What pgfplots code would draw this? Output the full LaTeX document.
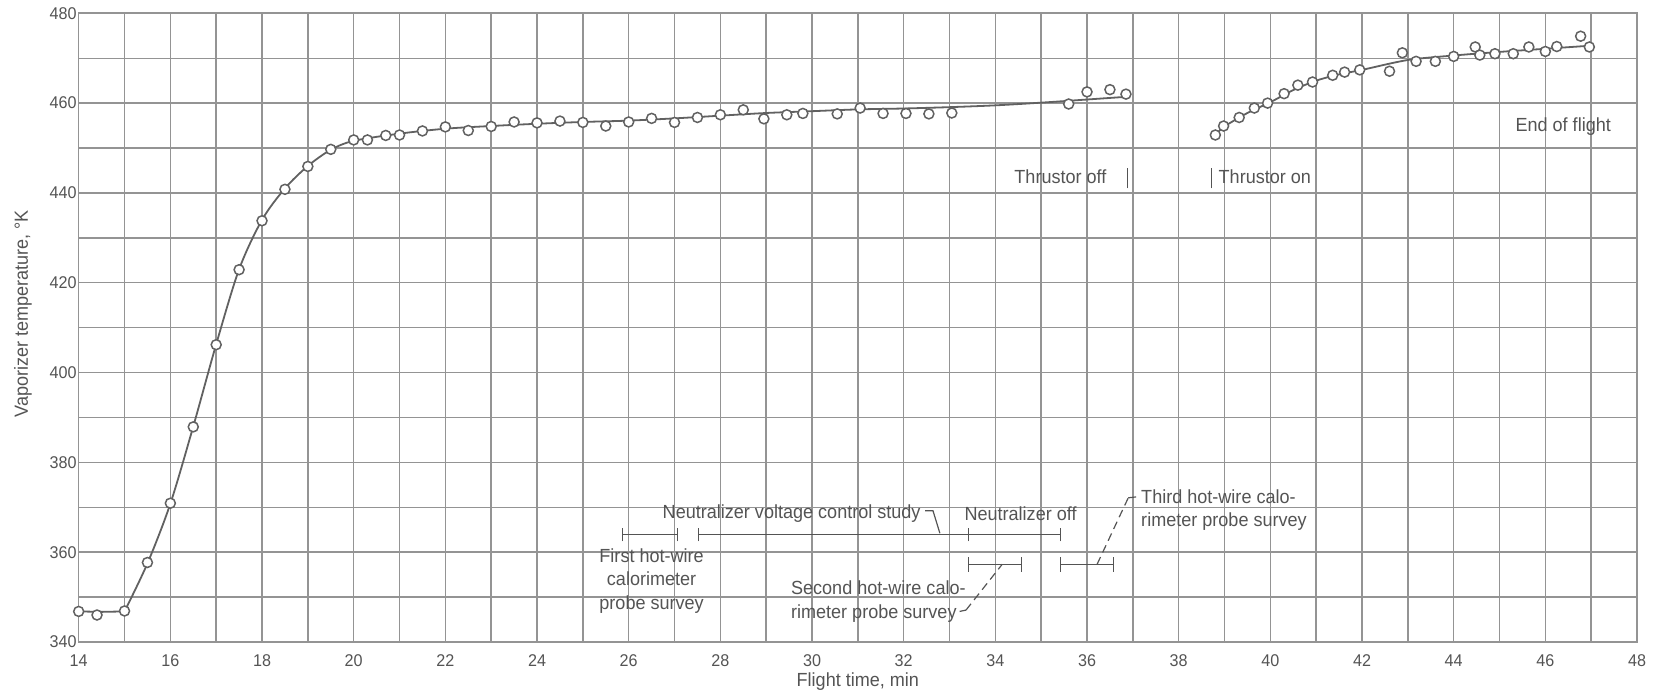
\documentclass[border=0pt]{standalone}
\usepackage{fontspec}
\setmainfont{Liberation Sans}[FakeStretch=0.95]
\usepackage{pgfplots}
\pgfplotsset{compat=1.18}
\definecolor{txt}{gray}{0.33}
\definecolor{gridc}{gray}{0.58}
\definecolor{crv}{gray}{0.38}

\begin{document}
\begin{tikzpicture}
\begin{axis}[name=ax, scale only axis, width=779.2pt, height=314.35pt,
  xmin=14, xmax=48, ymin=340, ymax=480,
  xtick={14,15,...,48},
  xticklabels={14,,16,,18,,20,,22,,24,,26,,28,,30,,32,,34,,36,,38,,40,,42,,44,,46,,48},
  ytick={340,350,...,480},
  yticklabels={340,,360,,380,,400,,420,,440,,460,,480},
  grid=major,
  major grid style={gridc, line width=0.7pt},
  axis line style={gridc, line width=0.8pt},
  tick style={draw=none},
  /pgf/number format/assume math mode=true,
  ticklabel style={font=\fontsize{8.5}{10}\selectfont, text=txt},
  xticklabel style={yshift=-3pt},
  yticklabel style={xshift=2.5pt},
  xlabel={Flight time, min},
  ylabel={Vaporizer temperature, °K},
  label style={font=\fontsize{9.5}{11}\selectfont, text=txt},
  xlabel style={at={(axis description cs:0.5,-0.0636)}, anchor=center},
  ylabel style={at={(axis description cs:-0.0358,0.522)}, anchor=center},
  clip=false,
]
% curve, first segment
\addplot[crv, line width=0.9pt] coordinates {(14,346.8)(14.5,346.7)(15,346.8)};
\addplot[crv, line width=0.9pt, smooth, tension=0.5] coordinates {
(15,346.8)(15.5,357.5)(16,370.8)(16.5,388)(17,406.3)(17.5,423)(18,434)(18.5,441)
(19,446)(19.5,449.6)(20,451.6)(21,453.2)(22,454.3)(23,454.9)(24,455.4)(25,455.8)
(26,456.1)(27,456.6)(28,457.2)(29,457.8)(30,458.2)(31,458.6)(32,458.8)(33,459.1)
(34,459.5)(35,460.1)(36,460.8)(36.85,461.4)};
% curve, second segment
\addplot[crv, line width=0.9pt, smooth, tension=0.5] coordinates {
(38.8,452.9)(39,454.8)(39.5,457.8)(40,460.2)(40.5,462.9)(41,465)(41.5,466.4)
(42,467.4)(43,469.6)(44,470.6)(45,471.4)(46,472.1)(47,472.8)};
% measured points
\addplot[only marks, mark=*, mark size=2.5pt, mark options={draw=crv, fill=white, line width=0.75pt}] coordinates {
(14,346.8)(14.4,346)(15,346.9)(15.5,357.7)(16,370.9)(16.5,387.9)(17,406.2)(17.5,422.9)
(18,433.8)(18.5,440.8)(19,445.9)(19.5,449.7)(20,451.8)(20.3,451.8)(20.7,452.8)(21,452.9)
(21.5,453.8)(22,454.7)(22.5,453.9)(23,454.8)(23.5,455.8)(24,455.6)(24.5,456)(25,455.7)
(25.5,454.9)(26,455.8)(26.5,456.6)(27,455.7)(27.5,456.8)(28,457.4)(28.5,458.5)(28.95,456.5)
(29.45,457.4)(29.8,457.7)(30.55,457.6)(31.05,458.9)(31.55,457.7)(32.05,457.7)(32.55,457.6)
(33.05,457.8)(35.6,459.8)(36.0,462.5)(36.5,463.0)(36.85,462.0)
(38.8,452.9)(38.98,454.9)(39.32,456.8)(39.65,458.9)(39.94,460)(40.3,462.1)(40.6,464)
(40.92,464.7)(41.36,466.2)(41.62,466.9)(41.95,467.4)(42.6,467.1)(42.88,471.2)(43.18,469.3)
(43.6,469.3)(44.0,470.4)(44.47,472.5)(44.57,470.7)(44.9,471)(45.3,471)(45.64,472.5)
(46.0,471.5)(46.25,472.6)(46.77,474.9)(46.96,472.5)};

% annotations
\begin{scope}[txt, line width=0.6pt]
% thrustor off / on
\node[inner sep=0, anchor=center, font=\fontsize{9.5}{11}\selectfont] at (35.42,443.5) {Thrustor off};
\draw[line width=0.8pt] (36.88,441) -- (36.88,445.6);
\draw[line width=0.8pt] (38.72,441) -- (38.72,445.6);
\node[inner sep=0, anchor=west, font=\fontsize{9.5}{11}\selectfont] at (38.86,443.5) {Thrustor on};
\node[inner sep=0, anchor=center, font=\fontsize{9.5}{11}\selectfont] at (46.39,454.8) {End of flight};
% interval bars
\draw (25.87,364) -- (27.07,364);
\draw (25.87,362.4) -- (25.87,365.4);
\draw (27.07,362.4) -- (27.07,365.4);
\draw (27.53,364) -- (35.42,364);
\draw (27.53,362.4) -- (27.53,365.4);
\draw (33.42,362.4) -- (33.42,365.4);
\draw (35.42,362.4) -- (35.42,365.4);
\draw (33.42,357.3) -- (34.57,357.3);
\draw (33.42,355.6) -- (33.42,359.0);
\draw (34.57,355.6) -- (34.57,359.0);
\draw (35.42,357.3) -- (36.57,357.3);
\draw (35.42,355.6) -- (35.42,359.0);
\draw (36.57,355.6) -- (36.57,359.0);
% leaders
\draw (32.47,369.2) -- (32.64,369.2) -- (32.79,364.2);
\draw (33.22,346.8) -- (33.36,347.1);
\draw[dash pattern=on 4pt off 2.5pt] (33.36,347.1) -- (34.15,357.3);
\draw[dash pattern=on 4pt off 2.5pt] (36.22,357.3) -- (36.9,372.1);
\draw (36.9,372.1) -- (37.07,372.3);
% texts
\node[inner sep=0, anchor=mid west, font=\fontsize{9.5}{11}\selectfont] at (26.73,368.6) {Neutralizer voltage control study};
\node[inner sep=0, anchor=mid, font=\fontsize{9.5}{11}\selectfont] at (34.55,368.2) {Neutralizer off};
\node[inner sep=0, anchor=center, align=center, font=\fontsize{9.5}{11.7}\selectfont] at (26.5,353.6) {First hot-wire\\calorimeter\\probe survey};
\node[inner sep=0, anchor=west, align=left, font=\fontsize{9.5}{11.7}\selectfont] at (29.53,349.0) {Second hot-wire calo-\\rimeter probe survey};
\node[inner sep=0, anchor=west, align=left, font=\fontsize{9.5}{11.7}\selectfont] at (37.17,369.4) {Third hot-wire calo-\\rimeter probe survey};
\end{scope}
\end{axis}
\pgfresetboundingbox
\path ([xshift=-39.35pt,yshift=-27.5pt]ax.south west) rectangle ([xshift=11pt,yshift=6.65pt]ax.north east);
\end{tikzpicture}
\end{document}
